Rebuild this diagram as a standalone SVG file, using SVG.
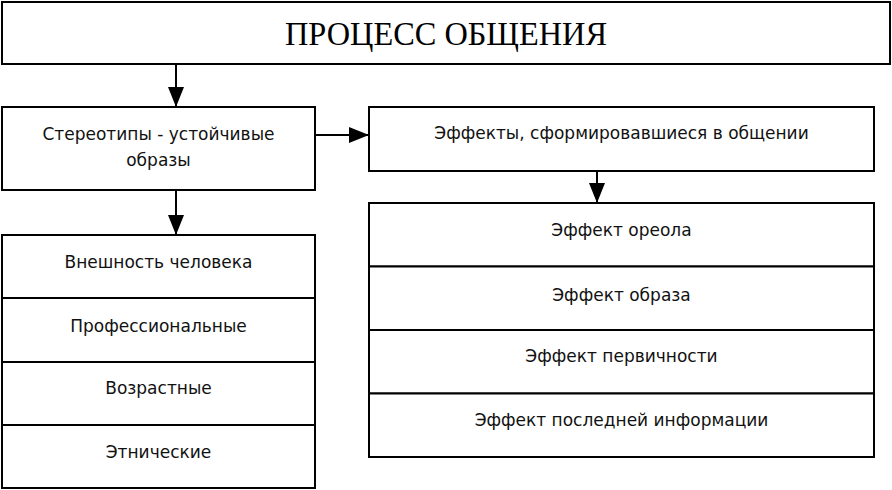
<svg xmlns="http://www.w3.org/2000/svg" width="892" height="490" viewBox="0 0 892 490">
<defs>
<style>
.box{fill:#fff;stroke:#000;stroke-width:2}
.t{font-family:"DejaVu Sans","Liberation Sans",sans-serif;font-size:17px;fill:#111;text-anchor:middle;dominant-baseline:central}
.title{font-family:"Liberation Serif","Times New Roman",serif;font-size:34px;fill:#000;text-anchor:middle}
.c{stroke:#000;stroke-width:2;fill:none}
</style>
<marker id="ah" viewBox="0 0 20 16" refX="20" refY="8" markerWidth="20" markerHeight="16" markerUnits="userSpaceOnUse" orient="auto">
<path d="M0,0 L20,8 L0,16 Z" fill="#000"/>
</marker>
</defs>
<rect width="892" height="490" fill="#fff"/>
<g id="title">
<rect class="box" x="2" y="2" width="888" height="62"/>
<text class="title" x="446" y="45" textLength="322" lengthAdjust="spacingAndGlyphs">ПРОЦЕСС ОБЩЕНИЯ</text>
</g>
<g id="stereotypes">
<rect class="box" x="2" y="107" width="313" height="83"/>
<text class="t" x="158.5" y="134">Стереотипы - устойчивые</text>
<text class="t" x="158.5" y="160">образы</text>
</g>
<g id="effects">
<rect class="box" x="369" y="107" width="505" height="64"/>
<text class="t" x="621.5" y="133">Эффекты, сформировавшиеся в общении</text>
</g>
<g id="stereotype-list">
<rect class="box" x="2" y="235" width="313" height="63"/>
<text class="t" x="158.5" y="262">Внешность человека</text>
<rect class="box" x="2" y="298" width="313" height="64"/>
<text class="t" x="158.5" y="326">Профессиональные</text>
<rect class="box" x="2" y="362" width="313" height="63"/>
<text class="t" x="158.5" y="388">Возрастные</text>
<rect class="box" x="2" y="425" width="313" height="63"/>
<text class="t" x="158.5" y="452">Этнические</text>
</g>
<g id="effect-list">
<rect class="box" x="369" y="203" width="505" height="63.5"/>
<text class="t" x="621.5" y="230">Эффект ореола</text>
<rect class="box" x="369" y="266.5" width="505" height="63.5"/>
<text class="t" x="621.5" y="295">Эффект образа</text>
<rect class="box" x="369" y="330" width="505" height="63.5"/>
<text class="t" x="621.5" y="356">Эффект первичности</text>
<rect class="box" x="369" y="393.5" width="505" height="63.5"/>
<text class="t" x="621.5" y="420">Эффект последней информации</text>
</g>
<g id="connectors">
<line class="c" x1="176" y1="64" x2="176" y2="107" marker-end="url(#ah)"/>
<line class="c" x1="315" y1="135" x2="369" y2="135" marker-end="url(#ah)"/>
<line class="c" x1="176" y1="190" x2="176" y2="235" marker-end="url(#ah)"/>
<line class="c" x1="597" y1="171" x2="597" y2="203" marker-end="url(#ah)"/>
</g>
</svg>
